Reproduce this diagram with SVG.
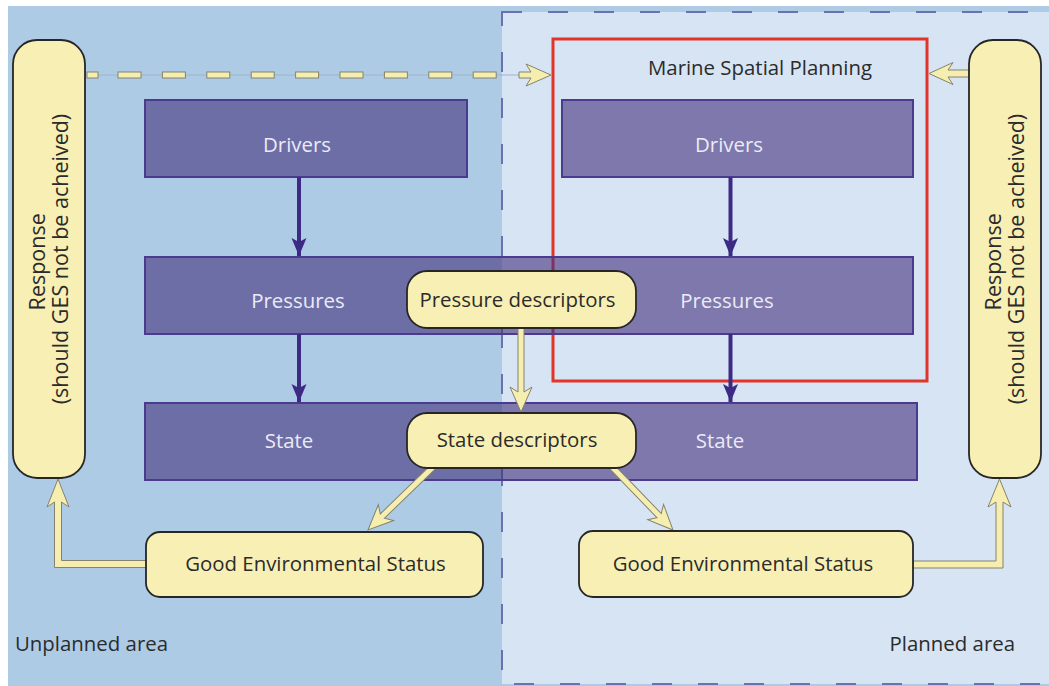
<svg xmlns="http://www.w3.org/2000/svg" width="1049" height="686" viewBox="0 0 1049 686">
  <defs>
    <style>
      .txt { font-family: "Open Sans", "Liberation Sans", sans-serif; font-size: 20.4px; }
      .resp { font-size: 21.5px; }
      .dark { fill: #2b2b2b; }
      .light { fill: #ebebf6; }
      .stage { fill: #43317d; fill-opacity: 0.6; stroke: #4b3a8d; stroke-width: 2; }
      .pill { fill: #f8efb4; stroke: #262626; stroke-width: 1.8; }
      .yarrow { fill: #f6eeaf; stroke: #85826f; stroke-width: 1; stroke-linejoin: miter; }
      .parrow { stroke: #3d2a85; stroke-width: 4; fill: none; }
    </style>
    <marker id="pHead" markerUnits="userSpaceOnUse" markerWidth="20" markerHeight="18" refX="18" refY="9" orient="auto">
      <polygon points="0,1.5 18,9 0,16.5 4,9" fill="#3d2a85"/>
    </marker>
  </defs>

  <!-- areas -->
  <g id="areas">
    <rect x="8" y="6" width="1041" height="680" fill="#aecbe6"/>
    <rect x="502" y="12" width="600" height="672" fill="#d6e4f3" stroke="#6a72ae" stroke-width="2" stroke-dasharray="20 26"/>
    <text class="txt dark" x="15" y="651">Unplanned area</text>
    <text class="txt dark" x="1015" y="651" text-anchor="end">Planned area</text>
  </g>

  <!-- Marine Spatial Planning frame -->
  <g id="msp">
    <rect x="553" y="39" width="374" height="342" fill="none" stroke="#e3342b" stroke-width="3"/>
    <text class="txt dark" x="760" y="75" text-anchor="middle">Marine Spatial Planning</text>
  </g>

  <!-- DPSIR stages -->
  <g id="drivers-unplanned">
    <rect class="stage" x="145" y="100" width="322" height="77"/>
    <text class="txt light" x="297" y="152" text-anchor="middle">Drivers</text>
  </g>
  <g id="drivers-planned">
    <rect class="stage" x="562" y="100" width="351" height="77"/>
    <text class="txt light" x="729" y="152" text-anchor="middle">Drivers</text>
  </g>
  <g id="pressures">
    <rect class="stage" x="145" y="257" width="768" height="77"/>
    <text class="txt light" x="298" y="308" text-anchor="middle">Pressures</text>
    <text class="txt light" x="727" y="308" text-anchor="middle">Pressures</text>
  </g>
  <g id="state">
    <rect class="stage" x="145" y="403" width="772" height="77"/>
    <text class="txt light" x="289" y="448" text-anchor="middle">State</text>
    <text class="txt light" x="720" y="448" text-anchor="middle">State</text>
  </g>

  <!-- connectors -->
  <g id="connectors">
    <!-- causal chain -->
    <line class="parrow" x1="299" y1="177" x2="299" y2="256" marker-end="url(#pHead)"/>
    <line class="parrow" x1="299" y1="334" x2="299" y2="402" marker-end="url(#pHead)"/>
    <line class="parrow" x1="730.5" y1="177" x2="730.5" y2="256" marker-end="url(#pHead)"/>
    <line class="parrow" x1="730.5" y1="334" x2="730.5" y2="402" marker-end="url(#pHead)"/>

    <!-- dashed feedback from unplanned response to planning -->
    <line x1="86" y1="75" x2="520" y2="75" stroke="#9fb4c6" stroke-width="1"/>
    <g class="yarrow">
      <rect x="87" y="72" width="11" height="6"/>
      <rect x="118" y="72" width="23" height="6"/>
      <rect x="162.4" y="72" width="23" height="6"/>
      <rect x="206.8" y="72" width="23" height="6"/>
      <rect x="251.2" y="72" width="23" height="6"/>
      <rect x="295.6" y="72" width="23" height="6"/>
      <rect x="340" y="72" width="23" height="6"/>
      <rect x="384.4" y="72" width="23" height="6"/>
      <rect x="428.8" y="72" width="23" height="6"/>
      <rect x="473.2" y="72" width="23" height="6"/>
      <polygon transform="translate(551,75)" points="-32,-3 -20,-3 -25,-11 0,0 -25,11 -20,3 -32,3"/>

      <!-- planned response to planning -->
      <polygon transform="translate(929,73.5) rotate(180)" points="-40,-3.5 -19,-3.5 -24,-11 0,0 -24,11 -19,3.5 -40,3.5"/>

      <!-- descriptors -->
      <polygon transform="translate(521,412) rotate(90)" points="-86,-3 -20,-3 -25,-11 0,0 -25,11 -20,3 -86,3"/>
      <polygon transform="translate(368,530) rotate(135.9)" points="-90,-3 -20,-3 -25,-11 0,0 -25,11 -20,3 -90,3"/>
      <polygon transform="translate(673,530) rotate(46)" points="-88,-3 -20,-3 -25,-11 0,0 -25,11 -20,3 -88,3"/>

      <!-- GES back to response -->
      <polygon points="147,560.5 61.5,560.5 61.5,502 69,507 58,479 47,507 54.5,502 54.5,567.5 147,567.5"/>
      <polygon points="913,561 996,561 996,502 988,507 999.5,479 1011,507 1003,502 1003,568 913,568"/>
    </g>
  </g>

  <!-- descriptor and status nodes -->
  <g id="pressure-descriptors">
    <rect class="pill" x="407" y="271" width="229" height="57" rx="20"/>
    <text class="txt dark" x="517.5" y="307" text-anchor="middle">Pressure descriptors</text>
  </g>
  <g id="state-descriptors">
    <rect class="pill" x="407" y="413" width="229" height="55" rx="20"/>
    <text class="txt dark" x="517" y="447" text-anchor="middle">State descriptors</text>
  </g>
  <g id="ges-unplanned">
    <rect class="pill" x="146" y="532" width="337" height="65" rx="14"/>
    <text class="txt dark" x="315.5" y="571" text-anchor="middle">Good Environmental Status</text>
  </g>
  <g id="ges-planned">
    <rect class="pill" x="579" y="531" width="334" height="66" rx="14"/>
    <text class="txt dark" x="743" y="571" text-anchor="middle">Good Environmental Status</text>
  </g>
  <g id="response-unplanned">
    <rect class="pill" x="13" y="40" width="72" height="438" rx="24"/>
    <text class="txt resp dark" transform="translate(49,259) rotate(-90)" text-anchor="middle">
      <tspan x="0" y="-4">Response</tspan>
      <tspan x="0" y="19">(should GES not be acheived)</tspan>
    </text>
  </g>
  <g id="response-planned">
    <rect class="pill" x="969" y="40" width="72" height="438" rx="24"/>
    <text class="txt resp dark" transform="translate(1005,259) rotate(-90)" text-anchor="middle">
      <tspan x="0" y="-4">Response</tspan>
      <tspan x="0" y="19">(should GES not be acheived)</tspan>
    </text>
  </g>
</svg>
